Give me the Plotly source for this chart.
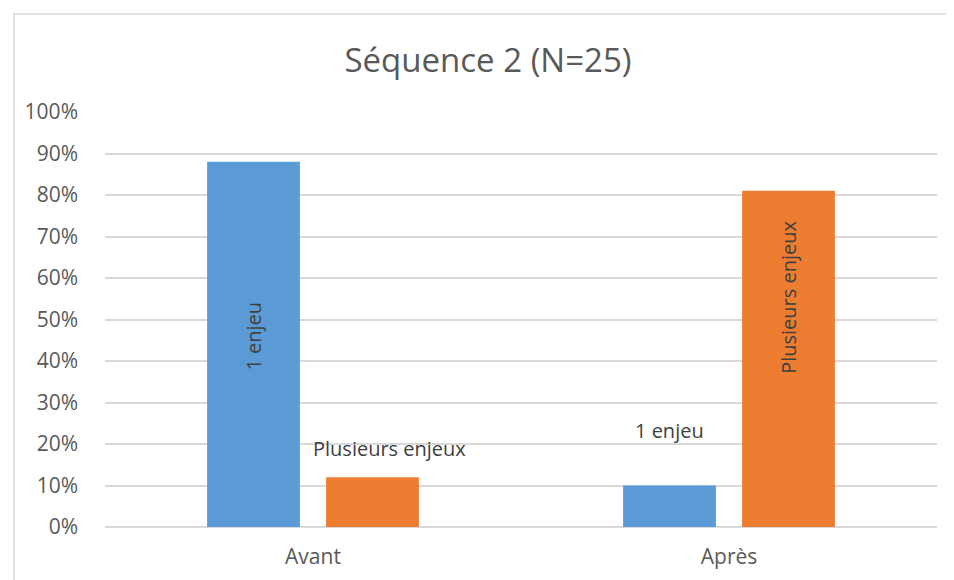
import plotly.graph_objects as go

categories = ["Avant", "Après"]
series_names = ["1 enjeu", "Plusieurs enjeux"]
un_enjeu = [0.88, 0.10]
plusieurs_enjeux = [0.12, 0.81]
y_ticks = [0, 0.1, 0.2, 0.3, 0.4, 0.5, 0.6, 0.7, 0.8, 0.9, 1.0]

BLUE = "#5B9BD5"
ORANGE = "#ED7D31"
GREY = "#595959"
FONT = "Open Sans"

BARGAP = 0.428
OFFSET = (1 - BARGAP) / 4  # distance from category centre to each bar centre

# the page body has an 8px margin, so the figure is drawn 8px smaller
W, H = 946, 572

fig = go.Figure()
fig.add_trace(go.Bar(x=categories, y=un_enjeu, name=series_names[0],
                     marker=dict(color=BLUE, line=dict(width=0))))
fig.add_trace(go.Bar(x=categories, y=plusieurs_enjeux, name=series_names[1],
                     marker=dict(color=ORANGE, line=dict(width=0))))

# data labels, placed like the original (some inside rotated, some above)
lab_font = dict(family=FONT, size=20, color="#404040")
fig.add_annotation(x=0 - OFFSET, y=un_enjeu[0] / 2 + 0.02, text=series_names[0],
                   textangle=-90, showarrow=False, font=lab_font)
fig.add_annotation(x=0 + OFFSET, y=plusieurs_enjeux[0], text=series_names[1],
                   yanchor="bottom", yshift=13, xshift=17, showarrow=False, font=lab_font)
fig.add_annotation(x=1 - OFFSET, y=un_enjeu[1], text=series_names[0],
                   yanchor="bottom", yshift=40, showarrow=False, font=lab_font)
fig.add_annotation(x=1 + OFFSET, y=plusieurs_enjeux[1], text=series_names[1],
                   textangle=-90, yanchor="top", yshift=-28, showarrow=False, font=lab_font)

# chart-area border
fig.add_shape(type="rect", xref="paper", yref="paper",
              x0=-0.1094, x1=1.0156, y0=-0.2, y1=1.236,
              line=dict(color="#D9D9D9", width=1.5), fillcolor="rgba(0,0,0,0)")

fig.update_xaxes(showgrid=False, ticks="", showline=False, ticklabelstandoff=15,
                 automargin=False,
                 tickfont=dict(family=FONT, size=21, color=GREY))
fig.update_yaxes(range=[0, 1], tickvals=y_ticks, tickformat=".0%",
                 showgrid=True, gridcolor="#D9D9D9", gridwidth=1.5,
                 zeroline=True, zerolinecolor="#D9D9D9", zerolinewidth=1.5,
                 ticks="", ticklabelstandoff=26, automargin=False,
                 tickfont=dict(family=FONT, size=21, color=GREY))

fig.update_layout(
    width=W, height=H,
    autosize=False,
    margin=dict(l=97, r=17, t=104, b=53, pad=0),
    title=dict(text="Séquence 2 (N=25)", x=480 / W, xanchor="center",
               y=1 - 52 / H, yanchor="middle",
               font=dict(family=FONT, size=33, color=GREY)),
    barmode="group", bargap=BARGAP, bargroupgap=0.22,
    plot_bgcolor="white", paper_bgcolor="white",
    showlegend=False,
)

fig.write_html("out.html")
